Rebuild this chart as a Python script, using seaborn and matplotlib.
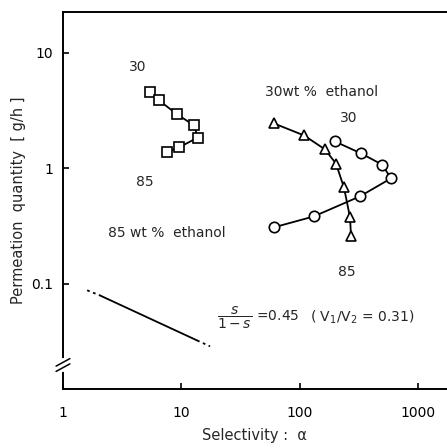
import numpy as np
import pandas as pd
import matplotlib
matplotlib.use("Agg")
import matplotlib.pyplot as plt
import seaborn as sns

# ---- data ----
sq_alpha = [5.44, 6.48, 9.2, 12.8, 13.8, 9.56, 7.57]
sq_perm = [4.55, 3.88, 2.94, 2.36, 1.85, 1.52, 1.38]

tri_alpha = [60.8, 109, 164, 203, 237, 267, 272]
tri_perm = [2.45, 1.93, 1.46, 1.10, 0.685, 0.376, 0.258]

cir_alpha = [199, 330, 497, 593, 324, 132, 60.8]
cir_perm = [1.71, 1.35, 1.08, 0.82, 0.573, 0.384, 0.309]

ref_alpha = [2.05, 13.6]
ref_perm = [0.0795, 0.0324]
ref_ext_lo_alpha = [1.6, 2.05]
ref_ext_lo_perm = [0.088, 0.0795]
ref_ext_hi_alpha = [13.6, 17.5]
ref_ext_hi_perm = [0.0324, 0.0288]

x_ticks = [1, 10, 100, 1000]
x_ticklabels = ["1", "10", "100", "1000"]
y_ticks = [0.1, 1, 10]
y_ticklabels = ["0.1", "1", "10"]

sns.set_style("ticks")
plt.rcParams["font.family"] = ["DejaVu Sans"]

fig = plt.figure(figsize=(4.47, 4.48), dpi=100)
ax = fig.add_axes([63 / 447, 59 / 448, 384 / 447, 377 / 448])

mk = dict(markerfacecolor="white", markeredgecolor="black", markeredgewidth=1.2)

sns.lineplot(x=sq_alpha, y=sq_perm, sort=False, ax=ax, color="black",
             linewidth=1.3, marker="s", markersize=7, **mk)
sns.lineplot(x=tri_alpha, y=tri_perm, sort=False, ax=ax, color="black",
             linewidth=1.3, marker="^", markersize=7, **mk)
sns.lineplot(x=cir_alpha, y=cir_perm, sort=False, ax=ax, color="black",
             linewidth=1.3, marker="o", markersize=7.5, **mk)
sns.lineplot(x=ref_alpha, y=ref_perm, sort=False, ax=ax, color="black",
             linewidth=1.3)
sns.lineplot(x=ref_ext_lo_alpha, y=ref_ext_lo_perm, sort=False, ax=ax,
             color="black", linewidth=1.3, linestyle=(0, (1.5, 2)))
sns.lineplot(x=ref_ext_hi_alpha, y=ref_ext_hi_perm, sort=False, ax=ax,
             color="black", linewidth=1.3, linestyle=(0, (1.5, 2)))

ax.set_xscale("log")
ax.set_yscale("log")
ax.set_xlim(1, 1762)
ax.set_ylim(0.0123, 22.6)
ax.set_xticks(x_ticks)
ax.set_xticklabels(x_ticklabels)
ax.set_yticks(y_ticks)
ax.set_yticklabels(y_ticklabels)
ax.minorticks_off()
ax.tick_params(direction="in", length=4, width=1.2, labelsize=10, pad=12,
               colors="black")
ax.tick_params(axis="y", pad=7)

for s in ["left", "bottom", "top"]:
    ax.spines[s].set_linewidth(1.4)
    ax.spines[s].set_color("black")
ax.spines["right"].set_visible(False)

ax.set_xlabel("Selectivity :  α", fontsize=10.5, labelpad=6)
ax.set_ylabel("Permeation  quantity  [ g/h ]", fontsize=10.5, labelpad=4)

# axis break mark on the left spine
yb = (389 - 365) / 377
ax.plot([0, 0], [yb - 0.012, yb + 0.012], transform=ax.transAxes,
        color="white", linewidth=3, clip_on=False, zorder=5)
for dy in (-0.007, 0.007):
    ax.plot([-0.018, 0.018], [yb + dy - 0.01, yb + dy + 0.01],
            transform=ax.transAxes, color="black", linewidth=1.1,
            clip_on=False, zorder=6)

fs = 10
ax.text(4.3, 7.5, "30", fontsize=fs, ha="center", va="center")
ax.text(4.93, 0.756, "85", fontsize=fs, ha="center", va="center")
ax.text(152, 4.55, "30wt %  ethanol", fontsize=fs, ha="center", va="center")
ax.text(262, 2.71, "30", fontsize=fs, ha="center", va="center")
ax.text(7.57, 0.274, "85 wt %  ethanol", fontsize=fs, ha="center", va="center")
ax.text(252, 0.126, "85", fontsize=fs, ha="center", va="center")
ax.text(44.5, 0.0513, r"$\dfrac{s}{1-s}$ =0.45", fontsize=fs, ha="center",
        va="center")
ax.text(337, 0.0513, r"( V$_1$/V$_2$ = 0.31)", fontsize=fs, ha="center",
        va="center")

fig.savefig("out.png", dpi=100)
